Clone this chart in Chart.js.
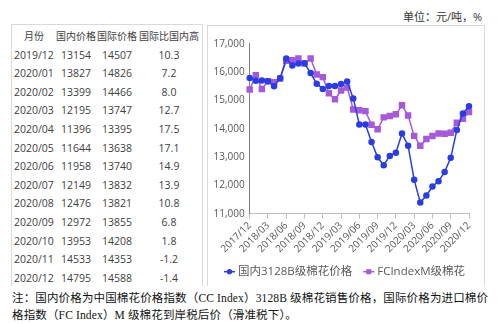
<!DOCTYPE html>
<html lang="zh-CN">
<head>
<meta charset="utf-8">
<title>棉花价格</title>
<script src="https://cdn.jsdelivr.net/npm/chart.js@4.4.1/dist/chart.umd.min.js"></script>
<style>
    html, body { margin: 0; padding: 0; background: #fff; }
    body { position: relative; width: 499px; height: 324px; overflow: hidden;
           font-family: "Open Sans", "Noto Sans CJK SC", sans-serif; color: #404040; }
    .unit { position: absolute; left: 403px; top: 8px; font-size: 11px; color: #333; white-space: nowrap; }
    .box { position: absolute; top: 24px; height: 262px; border: 1px solid #d9d9d9; border-bottom: none; box-sizing: border-box; overflow: hidden; }
    #tbl { left: 11px; width: 192px; }
    #chartBox { left: 207px; top: 25px; width: 278px; height: 261px; }
    #tbl span { position: absolute; white-space: nowrap; font-size: 10.5px; line-height: 1; }
    #tbl span.hd { font-size: 10px; }
    .note { position: absolute; left: 12px; font-family: "Liberation Serif", "Noto Sans CJK SC", serif;
            font-size: 11.5px; color: #111; white-space: nowrap; letter-spacing: 0.15px; }
</style>
</head>
<body>
<div class="unit">单位：元/吨，%</div>
<div class="box" id="tbl"></div>
<div class="box" id="chartBox"><canvas id="cottonChart" width="277" height="258"></canvas></div>
<div class="note" style="top:289px">注：国内价格为中国棉花价格指数（CC Index）3128B 级棉花销售价格，国际价格为进口棉价</div>
<div class="note" style="top:306px">格指数（FC Index）M 级棉花到岸税后价（滑准税下）。</div>

<script>
// ─── Data ─────────────────────────────────────────────────
const months = [
    '2017/12', '2018/01', '2018/02', '2018/03', '2018/04', '2018/05', '2018/06',
    '2018/07', '2018/08', '2018/09', '2018/10', '2018/11', '2018/12',
    '2019/01', '2019/02', '2019/03', '2019/04', '2019/05', '2019/06',
    '2019/07', '2019/08', '2019/09', '2019/10', '2019/11', '2019/12',
    '2020/01', '2020/02', '2020/03', '2020/04', '2020/05', '2020/06',
    '2020/07', '2020/08', '2020/09', '2020/10', '2020/11', '2020/12'
];

// 国内 3128B 级棉花价格（元/吨）
const domesticPrice = [
    15790, 15690, 15700, 15675, 15500, 15780, 16480,
    16230, 16300, 16310, 15965, 15590, 15405,
    15510, 15510, 15580, 15670, 15070, 14150,
    14150, 13530, 12990, 12710, 13040, 13154,
    13827, 13399, 12195, 11396, 11644, 11958,
    12149, 12476, 12972, 13953, 14533, 14795
];

// FCIndex M 级棉花到岸税后价（元/吨）
const intlPrice = [
    15385, 15885, 15400, 15675, 15640, 15770, 16400,
    16420, 16480, 16300, 16480, 15910, 15820,
    15250, 15040, 15350, 15450, 14680, 14650,
    14620, 14140, 13980, 14400, 14450, 14507,
    14826, 14466, 13747, 13395, 13638, 13740,
    13832, 13821, 13855, 14208, 14353, 14588
];

// 国际比国内高（%）
const intlPremium = [10.3, 7.2, 8.0, 12.7, 17.5, 17.1, 14.9, 13.9, 10.8, 6.8, 1.8, -1.2, -1.4];

const tableHeader = ['月份', '国内价格', '国际价格', '国际比国内高'];
const seriesNames = ['国内3128B级棉花价格', 'FCIndexM级棉花'];

document.addEventListener('DOMContentLoaded', function () {

    // ─── Table (last 13 months) ───────────────────────────────
    const elTbl = document.getElementById('tbl');
    const colX = [2, 64, 105, 157];  // month left edge, then column centres
    const rowY = (i) => 11 + i * 18.6;

    function cell(text, col, row, cls) {
        const s = document.createElement('span');
        s.textContent = text;
        if (cls) s.className = cls;
        s.style.top = rowY(row) + 'px';
        s.style.left = colX[col] + 'px';
        s.style.transform = col === 0 && row > 0 ? 'translate(0,-50%)' : 'translate(-50%,-50%)';
        elTbl.appendChild(s);
    }

    tableHeader.forEach((h, c) => {
        if (c === 0) { cell(h, 0, 0, 'hd'); elTbl.lastChild.style.left = '22px'; }
        else cell(h, c, 0, 'hd');
    });

    const start = months.length - intlPremium.length;
    intlPremium.forEach((p, i) => {
        const k = start + i;
        cell(months[k], 0, i + 1);
        cell(String(domesticPrice[k]), 1, i + 1);
        cell(String(intlPrice[k]), 2, i + 1);
        cell(p.toFixed(1), 3, i + 1);
    });

    // ─── Chart ────────────────────────────────────────────────
    const BLUE   = '#2a3de2';
    const PURPLE = '#a45ad9';
    const tickFont = { family: '"Open Sans", "Noto Sans CJK SC", sans-serif', size: 10 };

    // legend drawn Excel-style: short line with marker
    const lineLegend = {
        id: 'lineLegend',
        afterDraw(chart) {
            const { ctx, chartArea } = chart;
            const y = chartArea.bottom + 58;
            let x = 16;
            ctx.save();
            ctx.font = '11.5px "Open Sans", "Noto Sans CJK SC", sans-serif';
            ctx.textBaseline = 'middle';
            chart.data.datasets.forEach(ds => {
                ctx.strokeStyle = ds.borderColor;
                ctx.lineWidth = 1.5;
                ctx.beginPath(); ctx.moveTo(x, y); ctx.lineTo(x + 11, y); ctx.stroke();
                ctx.fillStyle = ds.pointBackgroundColor;
                if (ds.pointStyle === 'rect') {
                    ctx.fillRect(x + 3, y - 2.5, 5, 5);
                } else {
                    ctx.beginPath(); ctx.arc(x + 5.5, y, 2.6, 0, Math.PI * 2); ctx.fill();
                }
                ctx.fillStyle = '#595959';
                ctx.fillText(ds.label, x + 14, y + 0.5);
                x += 14 + ctx.measureText(ds.label).width + 11;
            });
            ctx.restore();
        }
    };

    const ctx = document.getElementById('cottonChart').getContext('2d');

    new Chart(ctx, {
        type: 'line',
        data: {
            labels: months,
            datasets: [
                {
                    label: seriesNames[0],
                    data: domesticPrice,
                    borderColor: BLUE,
                    backgroundColor: BLUE,
                    pointBackgroundColor: BLUE,
                    pointBorderColor: BLUE,
                    pointStyle: 'circle',
                    pointRadius: 2.5,
                    borderWidth: 1.5,
                    tension: 0,
                },
                {
                    label: seriesNames[1],
                    data: intlPrice,
                    borderColor: PURPLE,
                    backgroundColor: PURPLE,
                    pointBackgroundColor: PURPLE,
                    pointBorderColor: PURPLE,
                    pointStyle: 'rect',
                    pointRadius: 3.5,
                    borderWidth: 1.5,
                    tension: 0,
                }
            ]
        },
        options: {
            responsive: false,
            animation: false,
            layout: { padding: { top: 17.7, right: 16, bottom: 0, left: 0 } },
            plugins: {
                legend: { display: false },
                tooltip: { enabled: false }
            },
            scales: {
                x: {
                    grid: { drawOnChartArea: false, drawTicks: true, tickLength: 5, color: '#bfbfbf' },
                    border: { display: true, color: '#bfbfbf' },
                    ticks: {
                        color: '#595959', font: tickFont,
                        autoSkip: false, maxRotation: 45, minRotation: 45, padding: 1,
                        callback: (v, i) => (i % 3 === 0 ? months[i] : null)
                    },
                    afterFit: (s) => { s.height = 70.3; }
                },
                y: {
                    min: 11000,
                    max: 17000,
                    grid: { display: false, drawTicks: false },
                    border: { display: true, color: '#7f7f7f' },
                    ticks: {
                        stepSize: 1000, color: '#595959', font: tickFont, padding: 5,
                        callback: (v) => v.toLocaleString('en-US')
                    },
                    afterFit: (s) => { s.width = 41.7; }
                }
            }
        },
        plugins: [lineLegend]
    });
});
</script>
</body>
</html>
